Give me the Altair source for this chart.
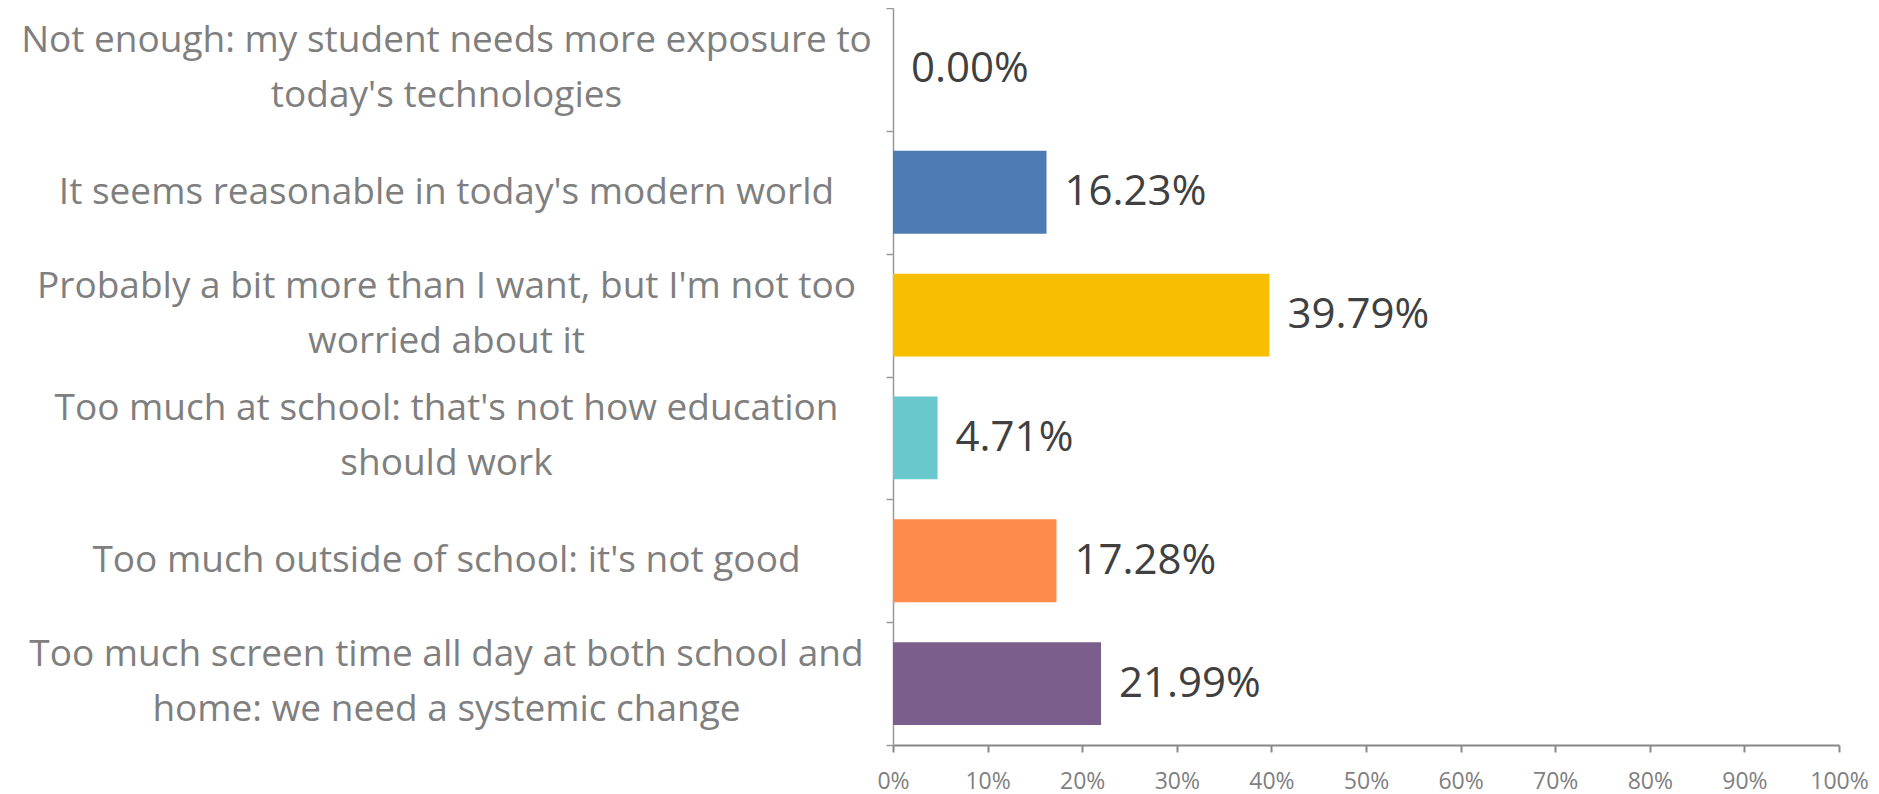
import altair as alt
import pandas as pd

categories = [
    "Not enough: my student needs more exposure to|today's technologies",
    "It seems reasonable in today's modern world",
    "Probably a bit more than I want, but I'm not too|worried about it",
    "Too much at school: that's not how education|should work",
    "Too much outside of school: it's not good",
    "Too much screen time all day at both school and|home: we need a systemic change",
]
values = [0.00, 16.23, 39.79, 4.71, 17.28, 21.99]
colors = ["#4e7bb4", "#4e7bb4", "#f7bf00", "#68c8cc", "#fe8a4c", "#7c5e8c"]
x_ticks = [0, 10, 20, 30, 40, 50, 60, 70, 80, 90, 100]

df = pd.DataFrame({"cat": categories, "value": values})

y_enc = alt.Y(
    "cat:N",
    sort=categories,
    scale=alt.Scale(paddingInner=0, paddingOuter=0),
    axis=alt.Axis(
        title=None,
        orient="left",
        labelAlign="center",
        labelBaseline="middle",
        labelPadding=440,
        labelOffset={
            "condition": {"test": "indexof(datum.label, '|') >= 0", "value": -29},
            "value": 0,
        },
        labelFont="Open Sans",
        labelFontSize=37,
        labelColor="#7f7f7f",
        labelLineHeight=55,
        labelLimit=0,
        labelExpr="split(datum.label, '|')",
        tickBand="extent",
        tickSize=7,
        tickColor="#999999",
        tickWidth=1.5,
        domainColor="#999999",
        domainWidth=1.5,
        grid=False,
    ),
)

x_enc = alt.X(
    "value:Q",
    scale=alt.Scale(domain=[0, 100], nice=False),
    axis=alt.Axis(
        title=None,
        values=x_ticks,
        labelExpr="datum.value + '%'",
        labelFont="Open Sans",
        labelFontSize=23,
        labelColor="#7f7f7f",
        labelPadding=18,
        labelFlush=False,
        labelOverlap=False,
        tickSize=7,
        tickColor="#888888",
        tickWidth=2,
        domainColor="#888888",
        domainWidth=2,
        grid=False,
    ),
)

base = alt.Chart(df).encode(y=y_enc)

bars = base.mark_bar(height=alt.RelativeBandSize(band=0.674)).encode(
    x=x_enc,
    color=alt.Color(
        "cat:N",
        scale=alt.Scale(domain=categories, range=colors),
        legend=None,
    ),
)

text = base.transform_calculate(
    lbl="format(datum.value, '.2f') + '%'"
).mark_text(
    align="left",
    baseline="middle",
    dx=18,
    font="Open Sans",
    fontSize=42,
    color="#404040",
).encode(
    x=alt.X("value:Q"),
    text="lbl:N",
)

chart = (
    alt.layer(bars, text)
    .properties(
        width=946,
        height=737,
        autosize=alt.AutoSizeParams(type="none"),
        padding={"left": 885, "top": 0, "right": 30, "bottom": 49},
    )
    .configure_view(stroke=None)
)

chart.save("out.html", embed_options={"renderer": "svg", "actions": False})
